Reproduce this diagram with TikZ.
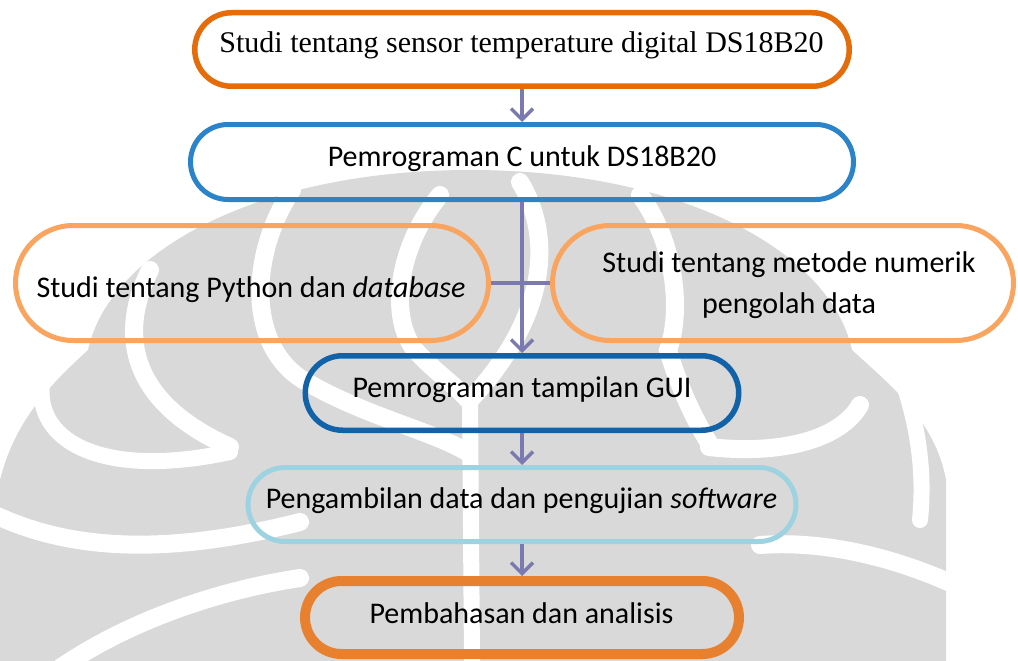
\documentclass[tikz,border=0pt]{standalone}
\usepackage{fontspec}
\setmainfont{Carlito}
\newfontfamily\serifface{Liberation Serif}
\usetikzlibrary{shapes.misc,arrows.meta}
\definecolor{wmgray}{HTML}{D9D9D9}
\definecolor{deeporange}{HTML}{E46C0A}
\definecolor{midblue}{HTML}{2B84C9}
\definecolor{paleorange}{HTML}{F9A560}
\definecolor{darkblue}{HTML}{1262A8}
\definecolor{paleblue}{HTML}{9DD3E1}
\definecolor{boldorange}{HTML}{E8812F}
\definecolor{arrowc}{HTML}{7A7AB0}
\begin{document}
\begin{tikzpicture}[x=1pt,y=-1pt,
  pill/.style={draw, rounded rectangle, inner sep=0pt},
  txt/.style={anchor=base, inner sep=0pt, font=\fontsize{30}{36}\selectfont},
  flow/.style={draw=arrowc, line width=3.5pt, -{Straight Barb[length=11pt,width=22pt]}},
  link/.style={draw=arrowc, line width=3.5pt},
  stripe/.style={draw=white, line width=18pt, line cap=round}]

% canvas
\fill[white] (0,0) rectangle (1018,661);
\useasboundingbox (0,0) rectangle (1018,661);

% faint emblem in the background
\fill[wmgray] (0,661) -- (0,480) .. controls (15,420) and (50,385) .. (88,350)
  .. controls (110,250) and (260,170) .. (470,170)
  .. controls (680,170) and (830,250) .. (852,350)
  .. controls (890,385) and (935,420) .. (946,480) -- (946,661) -- cycle;
% left meridians and crescents
\draw[stripe] (292,190) .. controls (252,250) and (245,340) .. (300,378)
  .. controls (360,415) and (430,430) .. (467,452);
\draw[stripe] (440,195) .. controls (395,250) and (390,320) .. (415,350)
  .. controls (435,372) and (455,385) .. (468,400);
\draw[stripe] (150,270) .. controls (120,330) and (125,400) .. (230,447);
\draw[stripe, line width=16pt] (43,377) .. controls (30,440) and (100,480) .. (230,452);
\draw[stripe] (-5,515) .. controls (60,545) and (150,560) .. (300,522);
\draw[stripe] (60,668) .. controls (130,620) and (220,590) .. (300,578);
% central stem
\draw[stripe, line width=16pt, line cap=butt] (470,400) -- (472,661);
% right meridians and crescents
\draw[stripe] (520,182) .. controls (555,240) and (545,320) .. (470,400);
\draw[stripe] (640,195) .. controls (680,250) and (680,320) .. (668,350)
  .. controls (680,390) and (695,420) .. (709,443);
\draw[stripe] (860,405) .. controls (840,440) and (780,455) .. (709,447);
\draw[stripe, line width=16pt] (897,365) .. controls (918,420) and (925,470) .. (920,520);
\draw[stripe] (760,545) .. controls (830,540) and (900,560) .. (955,585);

% process boxes
\node[pill, draw=deeporange, line width=5.5pt, minimum width=654.5pt, minimum height=73.5pt] (b1) at (522,49.5) {};
\node[pill, draw=midblue, line width=5pt, minimum width=663pt, minimum height=75pt] (b2) at (522,162) {};
\node[pill, draw=paleorange, line width=5pt, minimum width=473pt, minimum height=115pt] (b3) at (252,283) {};
\node[pill, draw=paleorange, line width=5pt, minimum width=461pt, minimum height=115pt] (b4) at (783,283) {};
\node[pill, draw=darkblue, line width=5.5pt, minimum width=433.5pt, minimum height=74.5pt] (b5) at (522,393) {};
\node[pill, draw=paleblue, line width=5pt, minimum width=548pt, minimum height=74pt] (b6) at (522,504.5) {};
\node[pill, draw=boldorange, line width=10pt, minimum width=434pt, minimum height=73pt] (b7) at (522,617.5) {};

% box texts
\node[txt, font=\serifface\fontsize{30}{36}\selectfont] (t1) at (521.5,53) {Studi tentang sensor temperature digital DS18B20};
\node[txt] (t2) at (522,166) {Pemrograman C untuk DS18B20};
\node[txt] (t3) at (251,297) {Studi tentang Python dan \textit{database}};
\node[txt] (t4a) at (789,272) {Studi tentang metode numerik};
\node[txt] (t4b) at (789,313) {pengolah data};
\node[txt] (t5) at (522,397) {Pemrograman tampilan GUI};
\node[txt] (t6) at (521.5,508) {Pengambilan data dan pengujian \textit{software}};
\node[txt] (t7) at (521.5,623) {Pembahasan dan analisis};

% connectors
\draw[flow] (b1.south) -- (b2.north);
\draw[link] (b3.east) -- (b4.west);
\draw[flow] (b2.south) -- (b5.north);
\draw[flow] (b5.south) -- (b6.north);
\draw[flow] (b6.south) -- (b7.north);
\end{tikzpicture}
\end{document}
